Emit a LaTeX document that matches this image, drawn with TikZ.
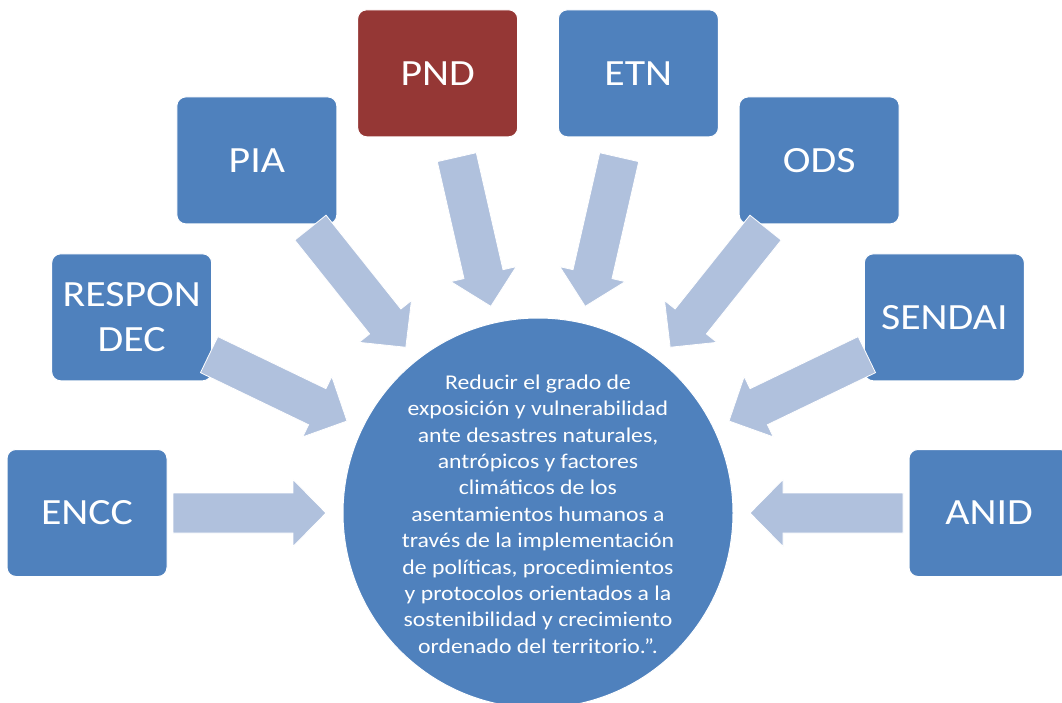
\documentclass[tikz,border=0pt]{standalone}
\usepackage{fontspec}
\setmainfont{Carlito}[FakeStretch=1.13]
\usetikzlibrary{calc}
\definecolor{boxblue}{HTML}{4F81BD}
\definecolor{boxred}{HTML}{953735}
\definecolor{arrowblue}{HTML}{B0C1DD}
\begin{document}
\begin{tikzpicture}[x=1pt,y=1pt,
  item/.style={rectangle, rounded corners=9pt, minimum width=160pt, minimum height=127pt,
    fill=boxblue, draw=white, line width=1pt, text=white,
    font=\fontsize{37}{45}\selectfont, align=center, inner sep=0pt},
  hubstyle/.style={circle, fill=boxblue, draw=white, line width=1pt, minimum size=390pt, inner sep=0pt},
  hubtextstyle/.style={text=white, font=\fontsize{21}{26.4}\selectfont, align=center, inner sep=0pt},
  bigarrow/.style={fill=arrowblue, draw=white, line width=0.8pt}]
\useasboundingbox (0,0) rectangle (1062,702);
\clip (0,0) rectangle (1062,702);
\coordinate (c) at (538,189);
\node[hubstyle] (hub) at (c) {};
\node[hubtextstyle] (hubtext) at ([yshift=-1pt]hub.center) {Reducir el grado de\\
exposición y vulnerabilidad\\
ante desastres naturales,\\
antrópicos y factores\\
climáticos de los\\
asentamientos humanos a\\
través de la implementación\\
de políticas, procedimientos\\
y protocolos orientados a la\\
sostenibilidad y crecimiento\\
ordenado del territorio.”.};
\foreach \k/\nm/\lbl/\col in {0/anid/ANID/boxblue, 1/sendai/SENDAI/boxblue, 2/ods/ODS/boxblue,
  3/etn/ETN/boxblue, 4/pnd/PND/boxred, 5/pia/PIA/boxblue, 6/respondec/RESPON\\DEC/boxblue,
  7/encc/ENCC/boxblue}{
  \pgfmathsetmacro{\ang}{\k*180/7}
  \node[item, fill=\col] (\nm) at ($(c)+(\ang:451pt)$) {\lbl};
  \begin{scope}[shift={(c)}, rotate=\ang]
    \coordinate (\nm-tip) at (212,0);
    \draw[bigarrow] (365,20) -- (245,20) -- (245,33.5) -- (\nm-tip)
      -- (245,-33.5) -- (245,-20) -- (365,-20) -- cycle;
  \end{scope}
}
\end{tikzpicture}
\end{document}
